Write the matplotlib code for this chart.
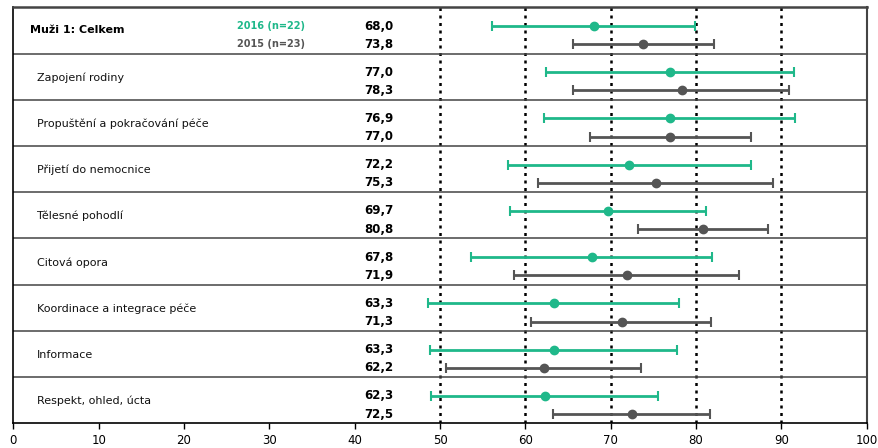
import numpy as np
import matplotlib.pyplot as plt

# popisky řádků
categories = [
    "Muži 1: Celkem",
    "Zapojení rodiny",
    "Propuštění a pokračování péče",
    "Přijetí do nemocnice",
    "Tělesné pohodlí",
    "Citová opora",
    "Koordinace a integrace péče",
    "Informace",
    "Respekt, ohled, úcta",
]

# 2016 (n=22)
mean_2016 = [68.0, 77.0, 76.9, 72.2, 69.7, 67.8, 63.3, 63.3, 62.3]
low_2016 = [56.1, 62.4, 62.2, 58.0, 58.2, 53.6, 48.6, 48.8, 49.0]
high_2016 = [79.9, 91.5, 91.6, 86.4, 81.2, 81.9, 78.0, 77.8, 75.6]

# 2015 (n=23)
mean_2015 = [73.8, 78.3, 77.0, 75.3, 80.8, 71.9, 71.3, 62.2, 72.5]
low_2015 = [65.6, 65.6, 67.6, 61.5, 73.2, 58.7, 60.7, 50.7, 63.2]
high_2015 = [82.1, 90.9, 86.5, 89.0, 88.4, 85.0, 81.8, 73.5, 81.6]

legend_labels = ["2016 (n=22)", "2015 (n=23)"]
xticks = list(range(0, 101, 10))
grid_x = [50, 60, 70, 80, 90]

GREEN = "#1fb88a"
GRAY = "#555555"


def fmt(v):
    return f"{v:.1f}".replace(".", ",")


fig = plt.figure(figsize=(8.79, 4.48), dpi=100)
ax = fig.add_axes([13.3 / 879, 1 - 423.3 / 448, 853.4 / 879, 416 / 448])

n = len(categories)
ax.set_xlim(0, 100)
ax.set_ylim(n, 0)

for gx in grid_x:
    ax.axvline(gx, color="black", linestyle=(0, (1.2, 1.8)), linewidth=1.8, zorder=1)

for i in range(1, n):
    ax.axhline(i, color="#444444", linewidth=1.1, zorder=1)

y16 = np.arange(n) + 0.405
y15 = np.arange(n) + 0.80

m16 = np.array(mean_2016)
m15 = np.array(mean_2015)
err16 = [m16 - np.array(low_2016), np.array(high_2016) - m16]
err15 = [m15 - np.array(low_2015), np.array(high_2015) - m15]

ax.errorbar(m16, y16, xerr=err16, fmt="o", color=GREEN, ecolor=GREEN,
            elinewidth=2, capsize=3.5, capthick=1.5, markersize=6, zorder=3)
ax.errorbar(m15, y15, xerr=err15, fmt="o", color=GRAY, ecolor=GRAY,
            elinewidth=2, capsize=3.5, capthick=1.5, markersize=6, zorder=3)

for i, name in enumerate(categories):
    if i == 0:
        ax.text(2.0, i + 0.5, name, fontsize=8, fontweight="bold",
                va="center", ha="left", color="black")
    else:
        ax.text(2.8, i + 0.52, name, fontsize=8, va="center", ha="left",
                color="#111111")
    ax.text(44.5, y16[i], fmt(mean_2016[i]), fontsize=8.5, fontweight="bold",
            va="center", ha="right", color="black")
    ax.text(44.5, y15[i], fmt(mean_2015[i]), fontsize=8.5, fontweight="bold",
            va="center", ha="right", color="black")

ax.text(34.2, y16[0], legend_labels[0], fontsize=7, fontweight="bold",
        va="center", ha="right", color=GREEN)
ax.text(34.2, y15[0], legend_labels[1], fontsize=7, fontweight="bold",
        va="center", ha="right", color=GRAY)

ax.set_yticks([])
ax.set_xticks(xticks)
ax.set_xticklabels([str(t) for t in xticks], fontsize=8.5)
ax.tick_params(axis="x", length=4, width=1, direction="out", pad=4)

ax.spines["top"].set_color("#444444")
ax.spines["top"].set_linewidth(1.8)
ax.spines["right"].set_color("#444444")
ax.spines["right"].set_linewidth(1.5)
ax.spines["left"].set_linewidth(1.2)
ax.spines["bottom"].set_linewidth(1.2)

fig.savefig("out.png", dpi=100)
